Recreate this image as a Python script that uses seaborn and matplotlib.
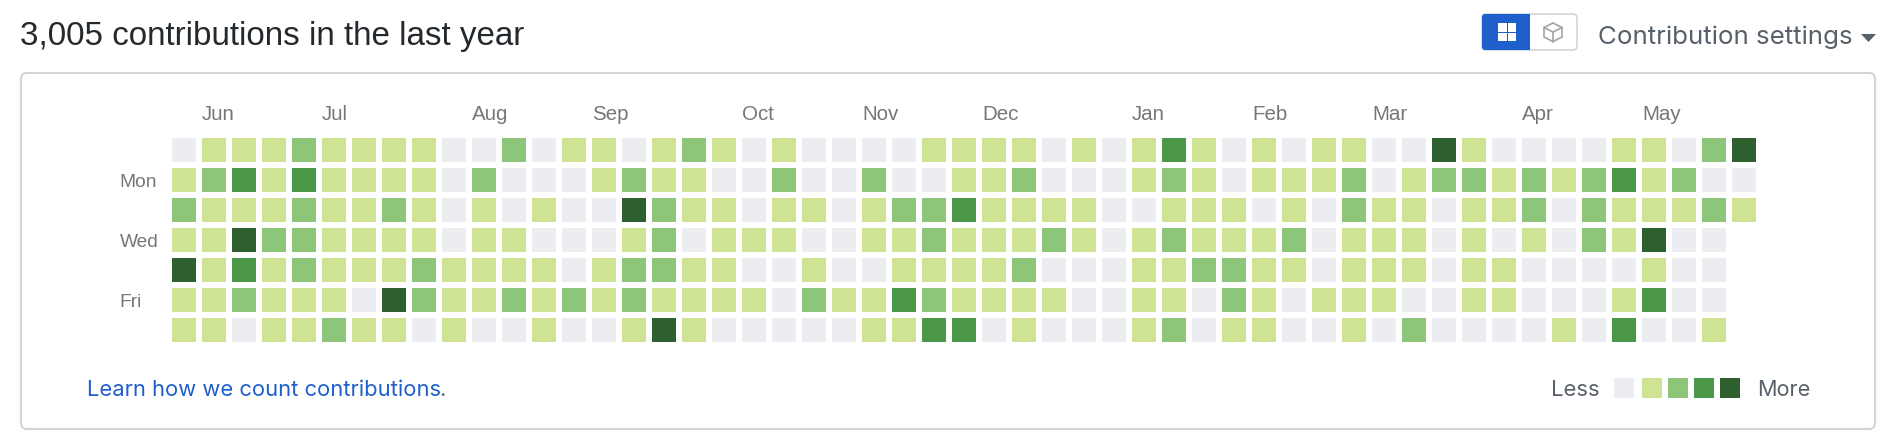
import numpy as np
import pandas as pd
import seaborn as sns
import matplotlib.pyplot as plt
from matplotlib.colors import ListedColormap
from matplotlib.patches import FancyBboxPatch, Rectangle, Polygon

nan = np.nan

# contribution level per week, one list per weekday
sun = [0,1,1,1,2,1,1,1,1,0,0,2,0,1,1, 0,1,2,1,0,1,0,0,0,0,1,1,1,1, 0,1,0,1,3,1,0,1,0,1,1,0,0,4, 1,0,0,0,0,1,1,0,2,4]
mon = [1,2,3,1,3,1,1,1,1,0,2,0,0,0,1, 2,1,1,0,0,2,0,0,2,0,0,1,1,2, 0,0,0,1,2,1,0,1,1,1,2,0,1,2, 2,1,2,1,2,3,1,2,0,0]
tue = [2,1,1,1,2,1,1,2,1,0,1,0,1,0,0, 4,2,1,1,0,1,1,0,1,2,2,3,1,1, 1,1,0,0,1,1,1,0,1,0,2,1,1,0, 1,1,2,0,2,1,1,1,2,1]
wed = [1,1,4,2,2,1,1,1,1,0,1,1,0,0,0, 1,2,0,1,1,1,0,0,1,1,2,1,1,1, 2,1,0,1,2,1,1,1,2,0,1,1,1,0, 1,0,1,0,2,1,4,0,0,nan]
thu = [4,1,3,1,2,1,1,1,2,1,1,1,1,0,1, 2,2,1,1,0,0,1,0,0,1,1,1,1,2, 0,0,0,1,1,2,2,1,1,0,1,1,1,0, 1,1,0,0,0,0,1,0,0,nan]
fri = [1,1,2,1,1,1,0,4,2,1,1,2,1,2,1, 2,1,1,1,1,0,2,1,1,3,2,1,1,1, 1,0,0,1,1,0,2,1,0,1,1,1,0,0, 1,1,0,0,0,1,3,0,0,nan]
sat = [1,1,0,1,1,2,1,1,0,1,0,0,1,0,0, 1,4,1,0,0,0,0,0,1,1,3,3,0,1, 0,0,0,1,2,0,1,1,0,0,1,0,2,0, 0,0,0,1,0,3,0,0,1,nan]

months = ['Jun', 'Jul', 'Aug', 'Sep', 'Oct', 'Nov', 'Dec', 'Jan', 'Feb', 'Mar', 'Apr', 'May']
month_weeks = [1, 5, 10, 14, 19, 23, 27, 32, 36, 40, 45, 49]
weekdays = ['Mon', 'Wed', 'Fri']
weekday_rows = [1, 3, 5]
level_colors = ['#ebedf0', '#cee394', '#8dc679', '#4b9748', '#2e5f2e']

W, H = 1900, 446
df = pd.DataFrame([sun, mon, tue, wed, thu, fri, sat])

sns.set_theme(style='white')
plt.rcParams['font.family'] = ['Liberation Sans', 'DejaVu Sans']

fig = plt.figure(figsize=(W / 100, H / 100), dpi=100)

# page layer in pixel coordinates, for the box and the controls
bg = fig.add_axes([0, 0, 1, 1])
bg.set_xlim(0, W)
bg.set_ylim(H, 0)
bg.axis('off')

bg.add_patch(FancyBboxPatch((21, 73), 1854, 356, boxstyle='round,pad=0,rounding_size=6',
                            fc='white', ec='#d1d5da', lw=1.5))

bg.text(20, 45, '3,005 contributions in the last year', fontsize=23.9, color='#24292e', va='baseline')
bg.text(87, 396, 'Learn how we count contributions', fontsize=15.8, color='#1f5fcb', va='baseline', family='Inter')
bg.text(439, 396, '.', fontsize=15.8, color='#586069', va='baseline', family='Inter')
bg.text(1551, 396, 'Less', fontsize=15.9, color='#586069', va='baseline', family='Inter')
bg.text(1757, 396, 'More', fontsize=15.6, color='#586069', va='baseline', family='Inter')
bg.text(1598, 44, 'Contribution settings', fontsize=18.65, color='#586069', va='baseline', family='Inter')

# caret
bg.add_patch(Polygon([(1861, 34), (1876, 34), (1868.5, 42)], fc='#586069', ec='none'))

# view toggle
bg.add_patch(FancyBboxPatch((1482, 14), 95, 36, boxstyle='round,pad=0,rounding_size=4',
                            fc='white', ec='#d1d5da', lw=1.2))
bg.add_patch(FancyBboxPatch((1482, 14), 48, 36, boxstyle='round,pad=0,rounding_size=3',
                            fc='#1f5fcb', ec='none'))
bg.add_patch(Rectangle((1526, 14), 4, 36, fc='#1f5fcb', ec='none'))
for x in [1498, 1507.5]:
    for y in [23, 32.5]:
        bg.add_patch(Rectangle((x, y), 8.5, 8.5, fc='white', ec='none'))

# cube icon
cube = [(1553, 23), (1562, 27.5), (1562, 37), (1553, 41.5), (1544, 37), (1544, 27.5)]
bg.add_patch(Polygon(cube, fc='none', ec='#a3a3a3', lw=1.2))
bg.plot([1544, 1553, 1562], [27.5, 32, 27.5], color='#a3a3a3', lw=1.2)
bg.plot([1553, 1553], [32, 41.5], color='#a3a3a3', lw=1.2)

# legend swatches
for x, c in zip([1614, 1642, 1668, 1694, 1720], level_colors):
    bg.add_patch(Rectangle((x, 378), 20, 20, fc=c, ec='none'))

# calendar, 30 px a cell with a 6 px gap
ax = fig.add_axes([169 / W, 1 - 345 / H, 1590 / W, 210 / H])
sns.heatmap(df, ax=ax, cmap=ListedColormap(level_colors), vmin=-0.5, vmax=4.5, cbar=False,
            linewidths=4.32, linecolor='white')
ax.patch.set_alpha(0)

ax.xaxis.tick_top()
ax.set_xticks(np.array(month_weeks) + 0.1)
ax.set_xticklabels(months, rotation=0, ha='left', fontsize=14.8, color='#767676')
ax.set_yticks(np.array(weekday_rows) + 0.57)
ax.set_yticklabels(weekdays, rotation=0, ha='left', fontsize=13.8, color='#767676')
ax.tick_params(axis='x', length=0, pad=8)
ax.tick_params(axis='y', length=0, pad=35.6)
ax.set_xlabel('')
ax.set_ylabel('')

fig.savefig('out.png', dpi=100)
